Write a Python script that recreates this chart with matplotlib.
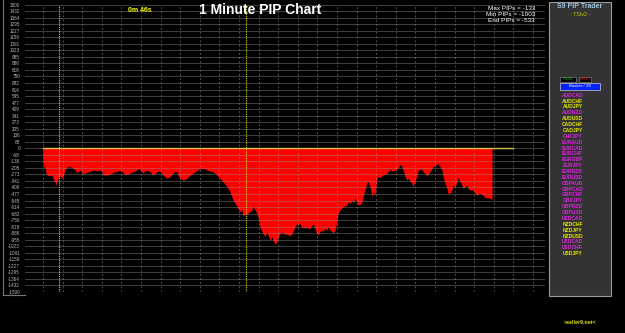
import matplotlib
matplotlib.use("Agg")
import matplotlib.pyplot as plt
import matplotlib.patches as patches
import numpy as np

# serie de PIPs por minuto
minutes = [0, 1, 2, 3, 4, 7, 9, 10, 12, 13, 14, 16, 17, 19, 20, 22, 24, 27, 30, 32,
           34, 35, 37, 39, 42, 44, 47, 50, 54, 57, 59, 60, 64, 67, 70, 74, 77, 80, 82, 84,
           87, 90, 94, 96, 99, 100, 102, 104, 107, 110, 112, 114, 117, 120, 124, 127, 130, 132, 134, 135,
           137, 140, 144, 147, 150, 154, 157, 160, 164, 167, 170, 174, 177, 180, 184, 187, 190, 194, 195, 197,
           199, 200, 202, 204, 205, 207, 209, 210, 212, 214, 215, 217, 219, 220, 222, 224, 225, 227, 229, 230,
           232, 234, 235, 237, 239, 240, 244, 247, 249, 250, 252, 254, 255, 257, 259, 260, 262, 264, 265, 267,
           269, 270, 272, 274, 275, 277, 279, 280, 282, 284, 285, 287, 289, 290, 292, 294, 295, 297, 300, 304,
           305, 307, 309, 310, 312, 314, 315, 317, 319, 320, 322, 324, 325, 327, 329, 330, 332, 334, 335, 337,
           339, 340, 342, 344, 345, 347, 349, 350, 352, 354, 355, 357, 359, 360, 362, 364, 365, 367, 369, 370,
           372, 374, 375, 377, 379, 380, 382, 384, 385, 387, 389, 390, 392, 394, 395, 397, 399, 400, 402, 404,
           405, 407, 409, 410, 412, 414, 415, 417, 419, 420, 422, 424, 425, 427, 430, 432, 434, 437, 440, 442,
           445, 449]
pips = [-133, -209, -157, -261, -279, -286, -279, -314, -348, -390, -348, -296, -286, -314, -296, -227, -192, -192, -209, -227,
        -261, -244, -227, -261, -261, -244, -244, -227, -237, -227, -244, -279, -279, -272, -251, -244, -227, -251, -279, -272,
        -261, -244, -227, -209, -244, -261, -237, -227, -244, -279, -261, -244, -237, -279, -314, -296, -261, -244, -244, -279,
        -314, -331, -314, -279, -261, -227, -216, -209, -227, -237, -244, -279, -314, -348, -401, -453, -540, -609, -627, -662,
        -644, -714, -679, -696, -679, -662, -644, -599, -644, -679, -714, -818, -870, -888, -923, -870, -905, -957, -923, -957,
        -1003, -975, -940, -888, -877, -888, -898, -912, -888, -870, -818, -783, -801, -783, -836, -818, -836, -818, -836, -836,
        -801, -783, -836, -888, -905, -870, -853, -870, -836, -853, -818, -853, -870, -888, -853, -766, -679, -644, -609, -592,
        -557, -575, -540, -575, -522, -557, -592, -585, -560, -505, -430, -355, -348, -401, -505, -453, -488, -314, -296, -307,
        -286, -279, -272, -261, -244, -216, -237, -237, -227, -216, -209, -167, -192, -227, -296, -331, -314, -341, -366, -401,
        -348, -279, -237, -216, -227, -244, -261, -286, -272, -244, -209, -192, -181, -167, -157, -192, -227, -296, -366, -418,
        -470, -470, -435, -383, -401, -348, -307, -348, -383, -418, -401, -376, -418, -435, -435, -470, -488, -470, -488, -515,
        -515, -533]

session_marks = [16, 203]       # linhas amarelas pontilhadas
zero_line_end = 470
timer_text = "0m 46s"

pairs = ["AUDCAD", "AUDCHF", "AUDJPY", "AUDNZD", "AUDUSD", "CADCHF", "CADJPY", "CHFJPY",
         "EURAUD", "EURCAD", "EURCHF", "EURGBP", "EURJPY", "EURNZD", "EURUSD", "GBPAUD",
         "GBPCAD", "GBPCHF", "GBPJPY", "GBPNZD", "GBPUSD", "NZDCAD", "NZDCHF", "NZDJPY",
         "NZDUSD", "USDCAD", "USDCHF", "USDJPY"]
pair_side = ["m", "y", "y", "m", "y", "y", "y", "m",
             "m", "m", "m", "m", "m", "m", "m", "m",
             "m", "m", "m", "m", "m", "m", "y", "y",
             "y", "m", "m", "y"]

W, H = 625, 333


def fx(px):
    return px / W


def fy(py):
    return 1 - py / H


fig = plt.figure(figsize=(6.25, 3.33), dpi=100, facecolor="black")
plt.rcParams["font.family"] = ["Liberation Sans", "DejaVu Sans"]

# ---- grafico principal ----
ax = fig.add_axes([fx(25), fy(292), (545 - 25) / W, (292 - 4.6) / H])
ax.set_facecolor("black")
ax.set_xlim(-18, 502)
ax.set_ylim(-1500, 1500)

ax.fill_between(minutes, pips, 0, color="#ff0000", linewidth=0, zorder=1)
ax.plot([0, zero_line_end], [0, 0], color="#d6c24a", lw=1.0, zorder=4)
for m in session_marks:
    ax.axvline(m, color="#d8d800", lw=0.8, ls=(0, (1, 1)), zorder=3)

yt = np.linspace(-1500, 1500, 45)
ax.set_yticks(yt)
ax.set_yticklabels([f"{v:.0f}" for v in yt])
ax.set_xticks(np.arange(0, 502, 19.6))
ax.set_xticklabels([])
ax.tick_params(axis="both", length=0, colors="#bbbbbb", labelsize=3.3, pad=3.6)
ax.grid(axis="y", color="#909090", alpha=0.42, lw=0.75, zorder=2)
ax.grid(axis="x", color="#a0a0a0", alpha=0.45, lw=0.75, ls=(0, (2, 2)), zorder=2)
ax.set_axisbelow(False)
for s in ax.spines.values():
    s.set_visible(False)

# moldura da escala
fig.add_artist(plt.Line2D([fx(3), fx(3)], [fy(0), fy(295)], color="#777777", lw=0.8))
fig.add_artist(plt.Line2D([fx(3), fx(25)], [fy(295), fy(295)], color="#777777", lw=0.8))

# textos do topo
fig.text(fx(140), fy(10), timer_text, color="#ffff00", fontsize=5, fontweight="bold",
         ha="center", va="center")
fig.text(fx(260), fy(10), "1 Minute PIP Chart", color="white", fontsize=10,
         fontweight="bold", ha="center", va="center")
stats = [f"Max PIPs = {max(pips)}", f"Min PIPs = {min(pips)}", f"End PIPs = {pips[-1]}"]
for i, s in enumerate(stats):
    fig.text(fx(535), fy(9 + 6 * i), s, color="white", fontsize=4.6, ha="right", va="center")

# ---- painel direito ----
fig.add_artist(patches.Rectangle((fx(549), fy(296)), (611 - 549) / W, (296 - 2) / H,
                                 transform=fig.transFigure, facecolor="#333333",
                                 edgecolor="#9a9a9a", lw=0.8))
fig.text(fx(580), fy(7), "S9 PIP Trader", color="#9fc4dc", fontsize=5, fontweight="bold",
         ha="center", va="center")
fig.text(fx(580), fy(14.5), "- TSIv2 -", color="#c8c800", fontsize=3.8, ha="center", va="center")

fig.add_artist(patches.Rectangle((fx(560), fy(82)), 16 / W, 5.5 / H, transform=fig.transFigure,
                                 facecolor="black", edgecolor="#777777", lw=0.5))
fig.add_artist(patches.Rectangle((fx(579), fy(82)), 12 / W, 5.5 / H, transform=fig.transFigure,
                                 facecolor="black", edgecolor="#777777", lw=0.5))
fig.text(fx(568), fy(79.2), "H1:58", color="#22cc22", fontsize=2.8, ha="center", va="center")
fig.text(fx(585), fy(79.2), "-0h:13", color="#dd2222", fontsize=2.8, ha="center", va="center")
fig.add_artist(patches.Rectangle((fx(560), fy(89.5)), 40 / W, 6.3 / H, transform=fig.transFigure,
                                 facecolor="#0022ff", edgecolor="#cccccc", lw=0.5))
fig.text(fx(580), fy(86.4), "Basket / 28", color="white", fontsize=3.2, ha="center", va="center")

for i, (p, side) in enumerate(zip(pairs, pair_side)):
    col = "#dd22dd" if side == "m" else "#e6e600"
    fig.text(fx(572.5), fy(95.2 + 5.87 * i), p, color=col, fontsize=3.6, fontweight="bold",
             ha="center", va="center")

fig.text(fx(580), fy(322), ">seller9.net<", color="#e6e600", fontsize=3.8, fontweight="bold",
         ha="center", va="center")

fig.savefig("out.png", dpi=100, facecolor="black")
